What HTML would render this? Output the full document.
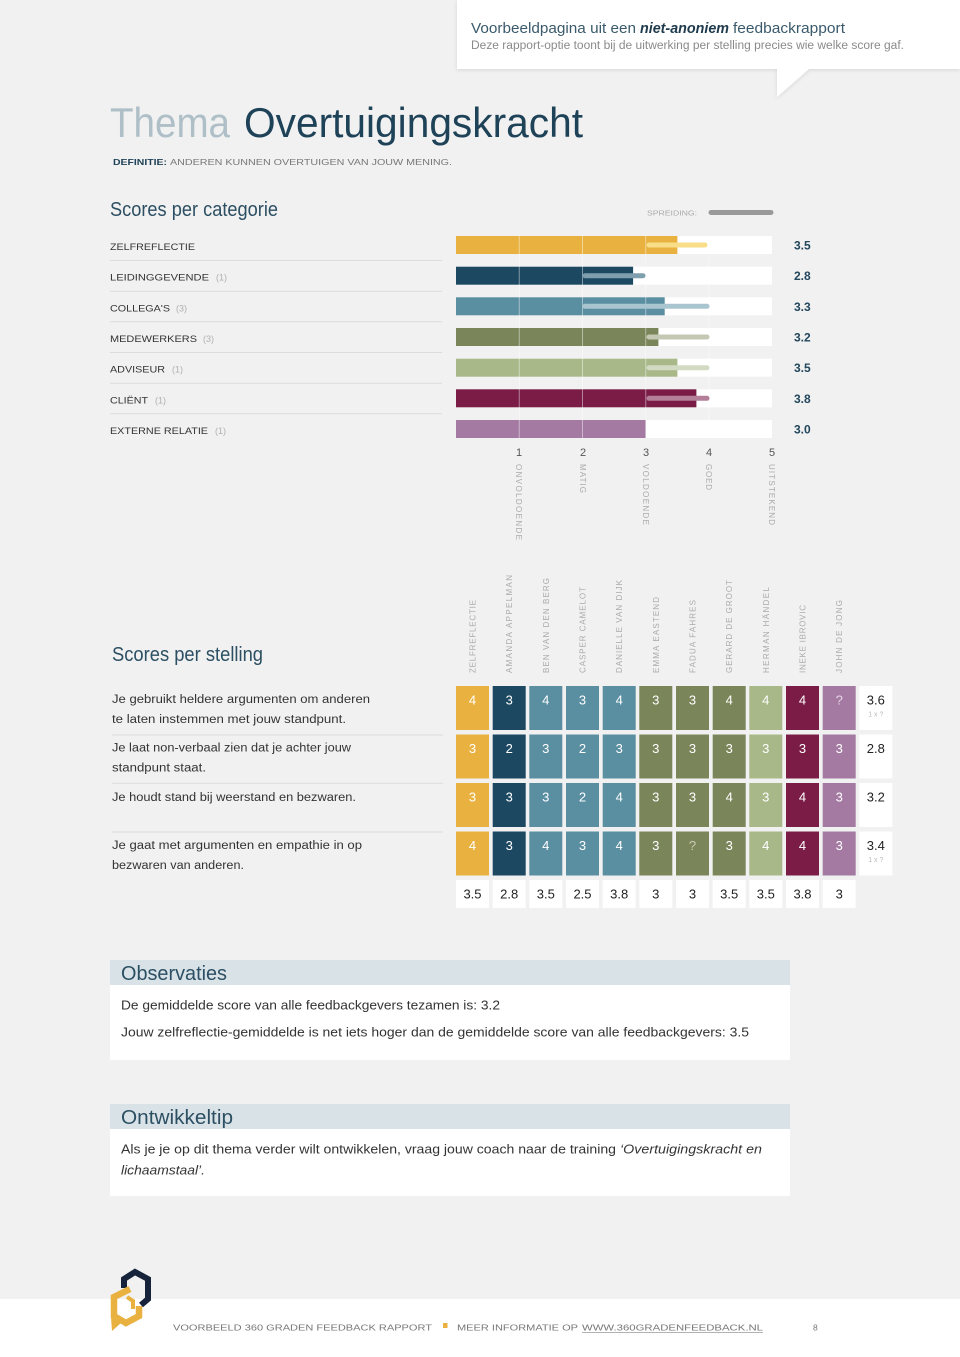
<!DOCTYPE html>
<html><head><meta charset="utf-8"><style>
html,body{margin:0;padding:0;background:#f1f1f1;}
svg{display:block;}
text{font-family:"Liberation Sans",sans-serif;}
</style></head><body>
<svg width="960" height="1357" viewBox="0 0 960 1357" xmlns="http://www.w3.org/2000/svg">
<defs>
<filter id="sh" x="-5%" y="-20%" width="110%" height="150%">
<feGaussianBlur in="SourceAlpha" stdDeviation="2"/>
<feOffset dy="1" result="b"/>
<feComponentTransfer><feFuncA type="linear" slope="0.12"/></feComponentTransfer>
<feMerge><feMergeNode/><feMergeNode in="SourceGraphic"/></feMerge>
</filter>
</defs>
<rect x="0" y="0" width="960" height="1357" fill="#f1f1f1"/>

<!-- callout -->
<g filter="url(#sh)">
<path d="M457,0 L960,0 L960,69 L809,69 L777,97 L777,69 L457,69 Z" fill="#ffffff"/>
</g>
<text x="471" y="33" font-size="14.5" fill="#3a5a6b" textLength="165" lengthAdjust="spacingAndGlyphs">Voorbeeldpagina uit een</text>
<text x="640" y="33" font-size="14.5" fill="#1e3a4c" font-weight="bold" font-style="italic" textLength="89" lengthAdjust="spacingAndGlyphs">niet-anoniem</text>
<text x="733" y="33" font-size="14.5" fill="#3a5a6b" textLength="112" lengthAdjust="spacingAndGlyphs">feedbackrapport</text>
<text x="471" y="49" font-size="11.5" fill="#8a8a8a" textLength="433" lengthAdjust="spacingAndGlyphs">Deze rapport-optie toont bij de uitwerking per stelling precies wie welke score gaf.</text>

<!-- title -->
<text x="110" y="137" font-size="42" fill="#aebfc7" textLength="120" lengthAdjust="spacingAndGlyphs">Thema</text>
<text x="244" y="137" font-size="42" fill="#1e4257" textLength="339" lengthAdjust="spacingAndGlyphs">Overtuigingskracht</text>
<text x="113" y="165" font-size="8.5" fill="#1e4257" font-weight="bold" textLength="54" lengthAdjust="spacingAndGlyphs">DEFINITIE:</text>
<text x="170" y="165" font-size="8.5" fill="#777" textLength="282" lengthAdjust="spacingAndGlyphs">ANDEREN KUNNEN OVERTUIGEN VAN JOUW MENING.</text>

<!-- scores per categorie -->
<text x="110" y="216" font-size="20" fill="#2c4f63" textLength="168" lengthAdjust="spacingAndGlyphs">Scores per categorie</text>
<text x="647" y="215.5" font-size="7.5" fill="#aaa" textLength="50" lengthAdjust="spacingAndGlyphs">SPREIDING:</text>
<line x1="711" y1="212.5" x2="771" y2="212.5" stroke="#9a9a9a" stroke-width="5" stroke-linecap="round"/>

<g font-size="9.5" fill="#333">
<text x="110" y="250" textLength="85" lengthAdjust="spacingAndGlyphs">ZELFREFLECTIE</text>
<text x="110" y="280.7" textLength="99" lengthAdjust="spacingAndGlyphs">LEIDINGGEVENDE</text>
<text x="110" y="311.3" textLength="60" lengthAdjust="spacingAndGlyphs">COLLEGA'S</text>
<text x="110" y="342" textLength="87" lengthAdjust="spacingAndGlyphs">MEDEWERKERS</text>
<text x="110" y="372.7" textLength="55" lengthAdjust="spacingAndGlyphs">ADVISEUR</text>
<text x="110" y="403.3" textLength="38" lengthAdjust="spacingAndGlyphs">CLIËNT</text>
<text x="110" y="434" textLength="98" lengthAdjust="spacingAndGlyphs">EXTERNE RELATIE</text>
</g>
<g font-size="9" fill="#b0b0b0">
<text x="216" y="280.7">(1)</text>
<text x="176" y="311.3">(3)</text>
<text x="203" y="342">(3)</text>
<text x="172" y="372.7">(1)</text>
<text x="155" y="403.3">(1)</text>
<text x="215" y="434">(1)</text>
</g>
<g stroke="#dcdcdc" stroke-width="1">
<line x1="110" y1="260.5" x2="442" y2="260.5"/>
<line x1="110" y1="291.2" x2="442" y2="291.2"/>
<line x1="110" y1="321.8" x2="442" y2="321.8"/>
<line x1="110" y1="352.5" x2="442" y2="352.5"/>
<line x1="110" y1="383.2" x2="442" y2="383.2"/>
<line x1="110" y1="413.8" x2="442" y2="413.8"/>
</g>

<!-- bars -->
<g>
<rect x="456" y="236" width="316" height="18" fill="#fff"/>
<rect x="456" y="236" width="221.4" height="18" fill="#e9b240"/>
<rect x="456" y="266.7" width="316" height="18" fill="#fff"/>
<rect x="456" y="266.7" width="177.1" height="18" fill="#1c4862"/>
<rect x="456" y="297.3" width="316" height="18" fill="#fff"/>
<rect x="456" y="297.3" width="208.7" height="18" fill="#5a8ea1"/>
<rect x="456" y="328" width="316" height="18" fill="#fff"/>
<rect x="456" y="328" width="202.4" height="18" fill="#7b855a"/>
<rect x="456" y="358.7" width="316" height="18" fill="#fff"/>
<rect x="456" y="358.7" width="221.4" height="18" fill="#a8b888"/>
<rect x="456" y="389.3" width="316" height="18" fill="#fff"/>
<rect x="456" y="389.3" width="240.4" height="18" fill="#7a1c45"/>
<rect x="456" y="420" width="316" height="18" fill="#fff"/>
<rect x="456" y="420" width="189.8" height="18" fill="#a47aa2"/>
</g>
<g stroke="#ffffff" stroke-opacity="0.45" stroke-width="1">
<line x1="519.25" y1="236" x2="519.25" y2="438"/>
<line x1="582.5" y1="236" x2="582.5" y2="438"/>
<line x1="645.75" y1="236" x2="645.75" y2="438"/>
<line x1="709" y1="236" x2="709" y2="438"/>
</g>
<g stroke-width="5" stroke-linecap="round">
<line x1="649" y1="245" x2="705" y2="245" stroke="#f8de88"/>
<line x1="585" y1="275.7" x2="643" y2="275.7" stroke="#7f9fae"/>
<line x1="585" y1="306.3" x2="707" y2="306.3" stroke="#a9c5d0"/>
<line x1="649" y1="337" x2="707" y2="337" stroke="#c5c9b3"/>
<line x1="649" y1="367.7" x2="707" y2="367.7" stroke="#d3dac3"/>
<line x1="649" y1="398.3" x2="707" y2="398.3" stroke="#b48099"/>
</g>
<g font-size="12" fill="#23475c" font-weight="bold">
<text x="794" y="249.5">3.5</text>
<text x="794" y="280.2">2.8</text>
<text x="794" y="310.8">3.3</text>
<text x="794" y="341.5">3.2</text>
<text x="794" y="372.2">3.5</text>
<text x="794" y="402.8">3.8</text>
<text x="794" y="433.5">3.0</text>
</g>

<!-- axis -->
<g font-size="11" fill="#555" text-anchor="middle">
<text x="519" y="456">1</text>
<text x="583" y="456">2</text>
<text x="646" y="456">3</text>
<text x="709" y="456">4</text>
<text x="772" y="456">5</text>
</g>
<g font-size="8" fill="#aaa">
<text transform="translate(516,464) rotate(90)" textLength="76">ONVOLDOENDE</text>
<text transform="translate(580,464) rotate(90)" textLength="29">MATIG</text>
<text transform="translate(643,464) rotate(90)" textLength="61">VOLDOENDE</text>
<text transform="translate(706,464) rotate(90)" textLength="26">GOED</text>
<text transform="translate(769,464) rotate(90)" textLength="61">UITSTEKEND</text>
</g>

<!-- column headers -->
<g font-size="8" fill="#aaa">
<text transform="translate(475.5,673) rotate(-90)" textLength="73">ZELFREFLECTIE</text>
<text transform="translate(512.2,673) rotate(-90)" textLength="98">AMANDA APPELMAN</text>
<text transform="translate(548.8,673) rotate(-90)" textLength="95">BEN VAN DEN BERG</text>
<text transform="translate(585.5,673) rotate(-90)" textLength="86">CASPER CAMELOT</text>
<text transform="translate(622.2,673) rotate(-90)" textLength="93">DANIELLE VAN DIJK</text>
<text transform="translate(658.8,673) rotate(-90)" textLength="76">EMMA EASTEND</text>
<text transform="translate(695.5,673) rotate(-90)" textLength="73">FADUA FAHRES</text>
<text transform="translate(732.2,673) rotate(-90)" textLength="93">GERARD DE GROOT</text>
<text transform="translate(768.8,673) rotate(-90)" textLength="86">HERMAN HÄNDEL</text>
<text transform="translate(805.5,673) rotate(-90)" textLength="68">INEKE IBROVIC</text>
<text transform="translate(842.2,673) rotate(-90)" textLength="73">JOHN DE JONG</text>
</g>

<!-- scores per stelling -->
<text x="112" y="661" font-size="20" fill="#2c4f63" textLength="151" lengthAdjust="spacingAndGlyphs">Scores per stelling</text>
<g font-size="11.5" fill="#333">
<text x="112" y="703" textLength="258" lengthAdjust="spacingAndGlyphs">Je gebruikt heldere argumenten om anderen</text>
<text x="112" y="723" textLength="234" lengthAdjust="spacingAndGlyphs">te laten instemmen met jouw standpunt.</text>
<text x="112" y="751.5" textLength="239" lengthAdjust="spacingAndGlyphs">Je laat non-verbaal zien dat je achter jouw</text>
<text x="112" y="771.5" textLength="94" lengthAdjust="spacingAndGlyphs">standpunt staat.</text>
<text x="112" y="801" textLength="244" lengthAdjust="spacingAndGlyphs">Je houdt stand bij weerstand en bezwaren.</text>
<text x="112" y="849" textLength="250" lengthAdjust="spacingAndGlyphs">Je gaat met argumenten en empathie in op</text>
<text x="112" y="869" textLength="132" lengthAdjust="spacingAndGlyphs">bezwaren van anderen.</text>
</g>
<g stroke="#dcdcdc" stroke-width="1">
<line x1="112" y1="735" x2="443" y2="735"/>
<line x1="112" y1="783.3" x2="443" y2="783.3"/>
<line x1="112" y1="832" x2="443" y2="832"/>
</g>

<!-- grid -->
<g id="grid">
<rect x="456" y="686" width="33" height="44" fill="#e9b240"/>
<rect x="492.7" y="686" width="33" height="44" fill="#1c4862"/>
<rect x="529.3" y="686" width="33" height="44" fill="#5a8ea1"/>
<rect x="566" y="686" width="33" height="44" fill="#5a8ea1"/>
<rect x="602.7" y="686" width="33" height="44" fill="#5a8ea1"/>
<rect x="639.3" y="686" width="33" height="44" fill="#7b855a"/>
<rect x="676" y="686" width="33" height="44" fill="#7b855a"/>
<rect x="712.7" y="686" width="33" height="44" fill="#7b855a"/>
<rect x="749.3" y="686" width="33" height="44" fill="#a8b888"/>
<rect x="786" y="686" width="33" height="44" fill="#7a1c45"/>
<rect x="822.7" y="686" width="33" height="44" fill="#a47aa2"/>
<rect x="859.3" y="686" width="33" height="44" fill="#ffffff"/>
<rect x="456" y="734.5" width="33" height="44" fill="#e9b240"/>
<rect x="492.7" y="734.5" width="33" height="44" fill="#1c4862"/>
<rect x="529.3" y="734.5" width="33" height="44" fill="#5a8ea1"/>
<rect x="566" y="734.5" width="33" height="44" fill="#5a8ea1"/>
<rect x="602.7" y="734.5" width="33" height="44" fill="#5a8ea1"/>
<rect x="639.3" y="734.5" width="33" height="44" fill="#7b855a"/>
<rect x="676" y="734.5" width="33" height="44" fill="#7b855a"/>
<rect x="712.7" y="734.5" width="33" height="44" fill="#7b855a"/>
<rect x="749.3" y="734.5" width="33" height="44" fill="#a8b888"/>
<rect x="786" y="734.5" width="33" height="44" fill="#7a1c45"/>
<rect x="822.7" y="734.5" width="33" height="44" fill="#a47aa2"/>
<rect x="859.3" y="734.5" width="33" height="44" fill="#ffffff"/>
<rect x="456" y="783" width="33" height="44" fill="#e9b240"/>
<rect x="492.7" y="783" width="33" height="44" fill="#1c4862"/>
<rect x="529.3" y="783" width="33" height="44" fill="#5a8ea1"/>
<rect x="566" y="783" width="33" height="44" fill="#5a8ea1"/>
<rect x="602.7" y="783" width="33" height="44" fill="#5a8ea1"/>
<rect x="639.3" y="783" width="33" height="44" fill="#7b855a"/>
<rect x="676" y="783" width="33" height="44" fill="#7b855a"/>
<rect x="712.7" y="783" width="33" height="44" fill="#7b855a"/>
<rect x="749.3" y="783" width="33" height="44" fill="#a8b888"/>
<rect x="786" y="783" width="33" height="44" fill="#7a1c45"/>
<rect x="822.7" y="783" width="33" height="44" fill="#a47aa2"/>
<rect x="859.3" y="783" width="33" height="44" fill="#ffffff"/>
<rect x="456" y="831.5" width="33" height="44" fill="#e9b240"/>
<rect x="492.7" y="831.5" width="33" height="44" fill="#1c4862"/>
<rect x="529.3" y="831.5" width="33" height="44" fill="#5a8ea1"/>
<rect x="566" y="831.5" width="33" height="44" fill="#5a8ea1"/>
<rect x="602.7" y="831.5" width="33" height="44" fill="#5a8ea1"/>
<rect x="639.3" y="831.5" width="33" height="44" fill="#7b855a"/>
<rect x="676" y="831.5" width="33" height="44" fill="#7b855a"/>
<rect x="712.7" y="831.5" width="33" height="44" fill="#7b855a"/>
<rect x="749.3" y="831.5" width="33" height="44" fill="#a8b888"/>
<rect x="786" y="831.5" width="33" height="44" fill="#7a1c45"/>
<rect x="822.7" y="831.5" width="33" height="44" fill="#a47aa2"/>
<rect x="859.3" y="831.5" width="33" height="44" fill="#ffffff"/>
<rect x="456" y="880" width="33" height="28" fill="#fff"/>
<rect x="492.7" y="880" width="33" height="28" fill="#fff"/>
<rect x="529.3" y="880" width="33" height="28" fill="#fff"/>
<rect x="566" y="880" width="33" height="28" fill="#fff"/>
<rect x="602.7" y="880" width="33" height="28" fill="#fff"/>
<rect x="639.3" y="880" width="33" height="28" fill="#fff"/>
<rect x="676" y="880" width="33" height="28" fill="#fff"/>
<rect x="712.7" y="880" width="33" height="28" fill="#fff"/>
<rect x="749.3" y="880" width="33" height="28" fill="#fff"/>
<rect x="786" y="880" width="33" height="28" fill="#fff"/>
<rect x="822.7" y="880" width="33" height="28" fill="#fff"/>
</g>
<g font-size="13" fill="#ffffff" text-anchor="middle">
<text x="472.5" y="704.5">4</text><text x="509.2" y="704.5">3</text><text x="545.8" y="704.5">4</text><text x="582.5" y="704.5">3</text><text x="619.2" y="704.5">4</text><text x="655.8" y="704.5">3</text><text x="692.5" y="704.5">3</text><text x="729.2" y="704.5">4</text><text x="765.8" y="704.5">4</text><text x="802.5" y="704.5">4</text><text x="839.2" y="704.5" fill="#e6d4e4">?</text>
<text x="472.5" y="753">3</text><text x="509.2" y="753">2</text><text x="545.8" y="753">3</text><text x="582.5" y="753">2</text><text x="619.2" y="753">3</text><text x="655.8" y="753">3</text><text x="692.5" y="753">3</text><text x="729.2" y="753">3</text><text x="765.8" y="753">3</text><text x="802.5" y="753">3</text><text x="839.2" y="753">3</text>
<text x="472.5" y="801.5">3</text><text x="509.2" y="801.5">3</text><text x="545.8" y="801.5">3</text><text x="582.5" y="801.5">2</text><text x="619.2" y="801.5">4</text><text x="655.8" y="801.5">3</text><text x="692.5" y="801.5">3</text><text x="729.2" y="801.5">4</text><text x="765.8" y="801.5">3</text><text x="802.5" y="801.5">4</text><text x="839.2" y="801.5">3</text>
<text x="472.5" y="850">4</text><text x="509.2" y="850">3</text><text x="545.8" y="850">4</text><text x="582.5" y="850">3</text><text x="619.2" y="850">4</text><text x="655.8" y="850">3</text><text x="692.5" y="850" fill="#c9cdb6">?</text><text x="729.2" y="850">3</text><text x="765.8" y="850">4</text><text x="802.5" y="850">4</text><text x="839.2" y="850">3</text>
</g>
<g font-size="13" fill="#222" text-anchor="middle">
<text x="875.8" y="704.5">3.6</text>
<text x="875.8" y="753">2.8</text>
<text x="875.8" y="801.5">3.2</text>
<text x="875.8" y="850">3.4</text>
<text x="472.5" y="898.5">3.5</text><text x="509.2" y="898.5">2.8</text><text x="545.8" y="898.5">3.5</text><text x="582.5" y="898.5">2.5</text><text x="619.2" y="898.5">3.8</text><text x="655.8" y="898.5">3</text><text x="692.5" y="898.5">3</text><text x="729.2" y="898.5">3.5</text><text x="765.8" y="898.5">3.5</text><text x="802.5" y="898.5">3.8</text><text x="839.2" y="898.5">3</text>
</g>
<g font-size="7" fill="#bbb" text-anchor="middle">
<text x="875.8" y="716.5">1 x ?</text>
<text x="875.8" y="862">1 x ?</text>
</g>

<!-- Observaties -->
<rect x="110" y="960" width="680" height="25" fill="#d9e3e7"/>
<rect x="110" y="985" width="680" height="75" fill="#ffffff"/>
<text x="121" y="980" font-size="20" fill="#2c4f63" textLength="106" lengthAdjust="spacingAndGlyphs">Observaties</text>
<text x="121" y="1009.5" font-size="12.5" fill="#333" textLength="379" lengthAdjust="spacingAndGlyphs">De gemiddelde score van alle feedbackgevers tezamen is: 3.2</text>
<text x="121" y="1036.5" font-size="12.5" fill="#333" textLength="628" lengthAdjust="spacingAndGlyphs">Jouw zelfreflectie-gemiddelde is net iets hoger dan de gemiddelde score van alle feedbackgevers: 3.5</text>

<!-- Ontwikkeltip -->
<rect x="110" y="1104" width="680" height="25" fill="#d9e3e7"/>
<rect x="110" y="1129" width="680" height="67" fill="#ffffff"/>
<text x="121" y="1124" font-size="20" fill="#2c4f63" textLength="112" lengthAdjust="spacingAndGlyphs">Ontwikkeltip</text>
<text x="121" y="1153.5" font-size="12.5" fill="#333" textLength="495" lengthAdjust="spacingAndGlyphs">Als je je op dit thema verder wilt ontwikkelen, vraag jouw coach naar de training</text>
<text x="620" y="1153.5" font-size="12.5" fill="#333" font-style="italic" textLength="142" lengthAdjust="spacingAndGlyphs">‘Overtuigingskracht en</text>
<text x="121" y="1174.5" font-size="12.5" fill="#333" font-style="italic" textLength="84" lengthAdjust="spacingAndGlyphs">lichaamstaal’.</text>

<!-- footer -->
<rect x="0" y="1299" width="960" height="58" fill="#ffffff"/>
<g font-size="8.5" fill="#777">
<text x="173" y="1330.5" textLength="259" lengthAdjust="spacingAndGlyphs">VOORBEELD 360 GRADEN FEEDBACK RAPPORT</text>
<text x="457" y="1330.5" textLength="121" lengthAdjust="spacingAndGlyphs">MEER INFORMATIE OP</text>
<text x="582" y="1330.5" textLength="181" lengthAdjust="spacingAndGlyphs">WWW.360GRADENFEEDBACK.NL</text>
<text x="813" y="1330.5">8</text>
</g>
<line x1="582" y1="1332.5" x2="763" y2="1332.5" stroke="#999" stroke-width="0.8"/>
<rect x="443" y="1323" width="4.5" height="5" fill="#e9b240"/>

<!-- logo -->
<polyline points="124,1288 124,1279 135,1272 148,1279 148,1299 141,1305" fill="none" stroke="#16233a" stroke-width="6" stroke-linejoin="miter"/>
<polyline points="130,1289 114,1297 114,1316 126,1323 139,1316 139,1306" fill="none" stroke="#e9b240" stroke-width="6.5" stroke-linejoin="miter"/>
<polygon points="111,1318 121,1323 112,1331" fill="#e9b240"/>
<polyline points="127,1297 133,1301 133,1309" fill="none" stroke="#e9b240" stroke-width="4"/>
</svg>
</body></html>
